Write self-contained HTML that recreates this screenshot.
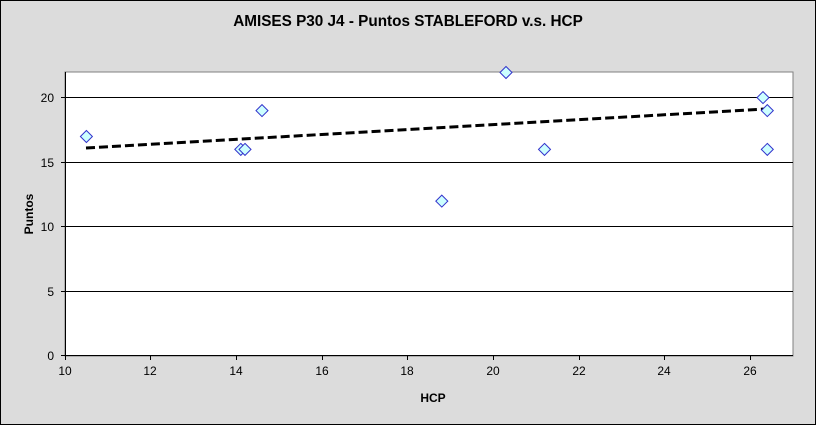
<!DOCTYPE html>
<html><head><style>body{margin:0;background:#fff}</style></head><body>
<svg width="816" height="425" xmlns="http://www.w3.org/2000/svg" font-family="Liberation Sans, Arial, sans-serif">
<rect x="0.5" y="0.5" width="815" height="424" fill="#dcdcdc" stroke="#000"/>
<text x="408" y="26" text-anchor="middle" font-size="15.3" font-weight="bold">AMISES P30 J4 - Puntos STABLEFORD v.s. HCP</text>
<rect x="65" y="72" width="728" height="284" fill="#fff" stroke="#808080"/>
<g stroke="#000" stroke-width="1">
<line x1="65" y1="97.5" x2="793" y2="97.5"/>
<line x1="65" y1="162.5" x2="793" y2="162.5"/>
<line x1="65" y1="226.5" x2="793" y2="226.5"/>
<line x1="65" y1="291.5" x2="793" y2="291.5"/>
<line x1="65.5" y1="72" x2="65.5" y2="356"/>
<line x1="65" y1="355.5" x2="793" y2="355.5"/>
<line x1="61" y1="97.5" x2="65" y2="97.5"/><line x1="61" y1="162.5" x2="65" y2="162.5"/><line x1="61" y1="226.5" x2="65" y2="226.5"/><line x1="61" y1="291.5" x2="65" y2="291.5"/><line x1="61" y1="355.5" x2="65" y2="355.5"/>
<line x1="65.5" y1="356" x2="65.5" y2="360"/><line x1="150.5" y1="356" x2="150.5" y2="360"/><line x1="236.5" y1="356" x2="236.5" y2="360"/><line x1="322.5" y1="356" x2="322.5" y2="360"/><line x1="407.5" y1="356" x2="407.5" y2="360"/><line x1="493.5" y1="356" x2="493.5" y2="360"/><line x1="579.5" y1="356" x2="579.5" y2="360"/><line x1="664.5" y1="356" x2="664.5" y2="360"/><line x1="750.5" y1="356" x2="750.5" y2="360"/>
</g>
<g font-size="12" text-anchor="end">
<text x="54" y="102">20</text><text x="54" y="167">15</text><text x="54" y="231">10</text><text x="54" y="296">5</text><text x="54" y="360">0</text>
</g>
<g font-size="12" text-anchor="middle">
<text x="65" y="375">10</text><text x="150" y="375">12</text><text x="236" y="375">14</text><text x="322" y="375">16</text><text x="407" y="375">18</text><text x="493" y="375">20</text><text x="579" y="375">22</text><text x="664" y="375">24</text><text x="750" y="375">26</text>
</g>
<text x="433" y="402" text-anchor="middle" font-size="12" font-weight="bold">HCP</text>
<text transform="translate(33,214) rotate(-90)" text-anchor="middle" font-size="12" font-weight="bold">Puntos</text>
<line x1="86" y1="148" x2="765" y2="109" stroke="#000" stroke-width="3" stroke-dasharray="9,4"/>
<g fill="#ccffff" stroke="#3333cc" stroke-width="1">
<path d="M86.4 130.5l6 6-6 6-6-6z"/>
<path d="M240.8 143.4l6 6-6 6-6-6z"/>
<path d="M245 143.4l6 6-6 6-6-6z"/>
<path d="M262 104.6l6 6-6 6-6-6z"/>
<path d="M441.8 195.1l6 6-6 6-6-6z"/>
<path d="M506 66.5l6 6-6 6-6-6z"/>
<path d="M544.5 143.4l6 6-6 6-6-6z"/>
<path d="M763 91.6l6 6-6 6-6-6z"/>
<path d="M767.3 104.6l6 6-6 6-6-6z"/>
<path d="M767.3 143.4l6 6-6 6-6-6z"/>
</g>
</svg>
</body></html>
